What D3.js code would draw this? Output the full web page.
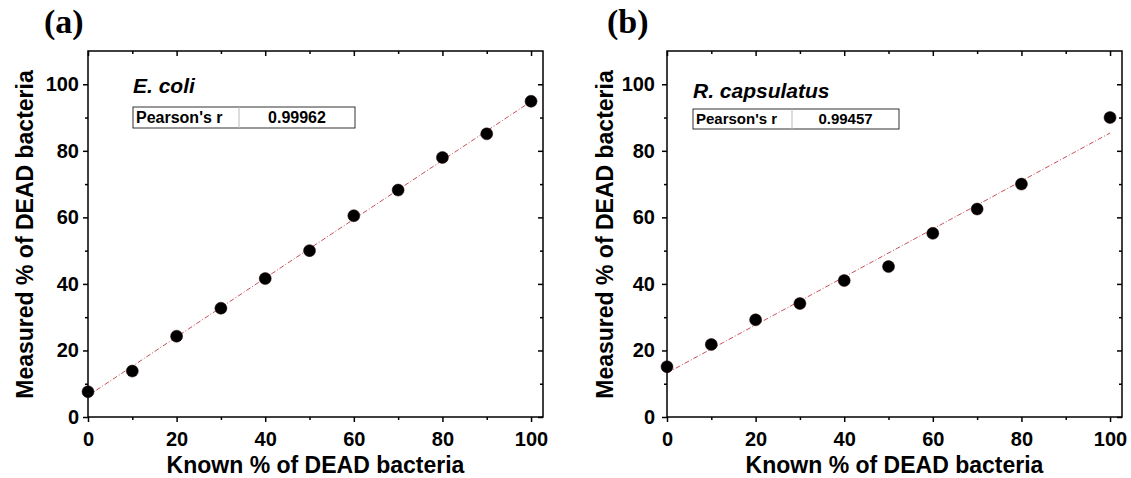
<!DOCTYPE html>
<html>
<head>
<meta charset="utf-8">
<script src="https://cdn.jsdelivr.net/npm/d3@7/dist/d3.min.js"></script>
<style>
  html, body { margin: 0; padding: 0; background: #fff; }
  svg { display: block; }
</style>
</head>
<body>
<svg id="chart" width="1131" height="478"></svg>
<script>
// ---- data ----
const knownA = [0, 10, 20, 30, 40, 50, 60, 70, 80, 90, 100];
const measuredA = [7.6, 13.8, 24.3, 32.7, 41.6, 50.0, 60.5, 68.2, 78.0, 85.1, 94.9];
const knownB = [0, 10, 20, 30, 40, 50, 60, 70, 80, 100];
const measuredB = [15.1, 21.8, 29.2, 34.1, 41.0, 45.2, 55.2, 62.5, 70.0, 90.0];
const majorTicks = [0, 20, 40, 60, 80, 100];
const minorTicks = [10, 30, 50, 70, 90];
const panelLetters = ["(a)", "(b)"];
const speciesNames = ["E. coli", "R. capsulatus"];
const pearsonR = ["0.99962", "0.99457"];
const xTitle = "Known % of DEAD bacteria";
const yTitle = "Measured % of DEAD bacteria";

const svg = d3.select("#chart");
const SANS = "'Liberation Sans', Arial, Helvetica, sans-serif";
const SERIF = "'Liberation Serif', 'Times New Roman', serif";

const panels = [
  { x: knownA, y: measuredA, left: 88, right: 543, letterX: 44, yTitleX: 33, tickGap: 9,
    species: speciesNames[0], r: pearsonR[0], letter: panelLetters[0],
    box: { l: 133, r: 355, t: 107, b: 128, d: 239 }, speciesY: 93, boxFont: 16 },
  { x: knownB, y: measuredB, left: 667, right: 1122, letterX: 607, yTitleX: 613, tickGap: 12,
    species: speciesNames[1], r: pearsonR[1], letter: panelLetters[1],
    box: { l: 693, r: 899, t: 109, b: 129, d: 792 }, speciesY: 98, boxFont: 15 }
];

const TOP = 51, BOTTOM = 417;

panels.forEach(p => {
  const g = svg.append("g");
  const x = d3.scaleLinear().domain([0, 102.7]).range([p.left, p.right]);
  const y = d3.scaleLinear().domain([0, 110]).range([BOTTOM, TOP]);

  // fit line (least squares)
  const mx = d3.mean(p.x), my = d3.mean(p.y);
  const sxy = d3.sum(p.x, (v, i) => (v - mx) * (p.y[i] - my));
  const sxx = d3.sum(p.x, v => (v - mx) * (v - mx));
  const slope = sxy / sxx, icpt = my - slope * mx;
  const fitX = [0, 100];
  g.append("path")
    .datum(fitX)
    .attr("d", d3.line().x(d => x(d)).y(d => y(icpt + slope * d)))
    .attr("fill", "none")
    .attr("stroke", "#c8505a")
    .attr("stroke-width", 1)
    .attr("stroke-dasharray", "5,2,1,2");

  // points
  g.selectAll("circle.pt")
    .data(p.x.map((v, i) => [v, p.y[i]]))
    .join("circle")
    .attr("class", "pt")
    .attr("cx", d => x(d[0]))
    .attr("cy", d => y(d[1]))
    .attr("r", 6)
    .attr("fill", "#000")
    .attr("stroke", "#200000")
    .attr("stroke-width", 0.5);

  // axes
  const styleAxis = sel => {
    sel.select(".domain").remove();
    sel.selectAll("line").attr("stroke", "#000").attr("stroke-width", 1.5);
    sel.selectAll("text").attr("font-family", SANS).attr("font-weight", "bold")
      .attr("font-size", 20).attr("fill", "#000");
  };
  // bottom
  g.append("g").attr("transform", `translate(0,${BOTTOM})`)
    .call(d3.axisBottom(x).tickValues(majorTicks).tickSize(5).tickPadding(10).tickFormat(d3.format("d")))
    .call(styleAxis);
  g.append("g").attr("transform", `translate(0,${BOTTOM})`)
    .call(d3.axisBottom(x).tickValues(minorTicks).tickSize(3).tickFormat(""))
    .call(styleAxis);
  // top (inward)
  g.append("g").attr("transform", `translate(0,${TOP})`)
    .call(d3.axisBottom(x).tickValues(majorTicks).tickSize(5).tickFormat(""))
    .call(styleAxis);
  g.append("g").attr("transform", `translate(0,${TOP})`)
    .call(d3.axisBottom(x).tickValues(minorTicks).tickSize(3).tickFormat(""))
    .call(styleAxis);
  // left
  g.append("g").attr("transform", `translate(${p.left},0)`)
    .call(d3.axisLeft(y).tickValues(majorTicks).tickSize(5).tickPadding(p.tickGap - 5).tickFormat(d3.format("d")))
    .call(styleAxis);
  g.append("g").attr("transform", `translate(${p.left},0)`)
    .call(d3.axisLeft(y).tickValues(minorTicks).tickSize(3).tickFormat(""))
    .call(styleAxis);
  // right (inward)
  g.append("g").attr("transform", `translate(${p.right},0)`)
    .call(d3.axisLeft(y).tickValues(majorTicks).tickSize(5).tickFormat(""))
    .call(styleAxis);
  g.append("g").attr("transform", `translate(${p.right},0)`)
    .call(d3.axisLeft(y).tickValues(minorTicks).tickSize(3).tickFormat(""))
    .call(styleAxis);

  // frame
  g.append("rect")
    .attr("x", p.left).attr("y", TOP)
    .attr("width", p.right - p.left).attr("height", BOTTOM - TOP)
    .attr("fill", "none").attr("stroke", "#000").attr("stroke-width", 1.5);

  // axis titles
  g.append("text")
    .attr("x", (p.left + p.right) / 2).attr("y", 473)
    .attr("text-anchor", "middle")
    .attr("font-family", SANS).attr("font-weight", "bold").attr("font-size", 23)
    .text(xTitle);
  g.append("text")
    .attr("transform", `translate(${p.yTitleX},${(TOP + BOTTOM) / 2 + 0.5}) rotate(-90)`)
    .attr("text-anchor", "middle")
    .attr("font-family", SANS).attr("font-weight", "bold").attr("font-size", 23)
    .text(yTitle);

  // panel letter
  g.append("text")
    .attr("x", p.letterX).attr("y", 33)
    .attr("font-family", SERIF).attr("font-weight", "bold").attr("font-size", 34)
    .text(p.letter);

  // species
  g.append("text")
    .attr("x", p.box.l).attr("y", p.speciesY)
    .attr("font-family", SANS).attr("font-weight", "bold").attr("font-style", "italic")
    .attr("font-size", 21)
    .text(p.species);

  // pearson table
  const b = p.box;
  g.append("rect")
    .attr("x", b.l).attr("y", b.t).attr("width", b.r - b.l).attr("height", b.b - b.t)
    .attr("fill", "#fff").attr("stroke", "#333").attr("stroke-width", 1);
  g.append("line")
    .attr("x1", b.d).attr("x2", b.d).attr("y1", b.t).attr("y2", b.b)
    .attr("stroke", "#bbb").attr("stroke-width", 1);
  g.append("text")
    .attr("x", b.l + 3).attr("y", (b.t + b.b) / 2)
    .attr("dy", "0.36em")
    .attr("font-family", SANS).attr("font-weight", "bold").attr("font-size", p.boxFont)
    .text("Pearson's r");
  g.append("text")
    .attr("x", (b.d + b.r) / 2).attr("y", (b.t + b.b) / 2)
    .attr("dy", "0.36em").attr("text-anchor", "middle")
    .attr("font-family", SANS).attr("font-weight", "bold").attr("font-size", p.boxFont)
    .text(p.r);
});
</script>
</body>
</html>
